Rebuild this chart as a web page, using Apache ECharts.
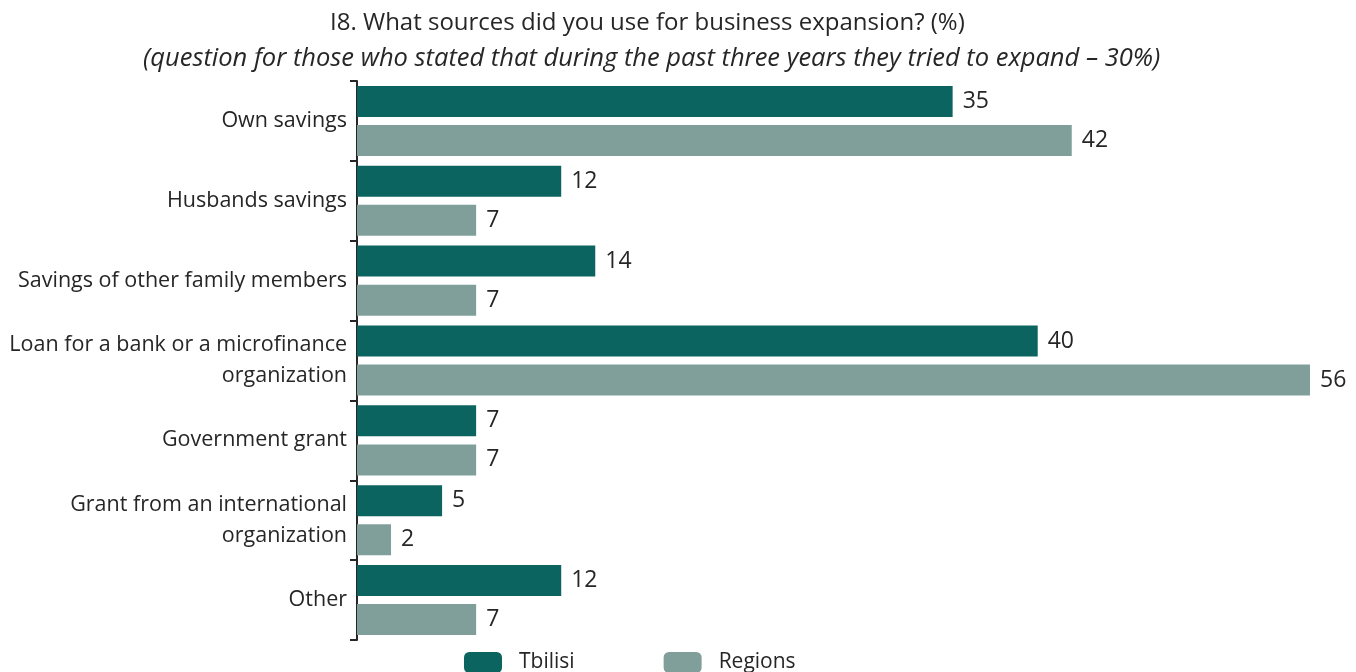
<!DOCTYPE html>
<html>
<head>
<meta charset="utf-8">
<script src="https://cdn.jsdelivr.net/npm/echarts@6/dist/echarts.min.js"></script>
<style>
  html, body { margin: 0; padding: 0; background: #fff; }
  #chart { width: 1356px; height: 672px; }
</style>
</head>
<body>
<div id="chart"></div>
<script>
// Survey answers: sources used for business expansion (%)
const categories = [
  'Own savings',
  'Husbands savings',
  'Savings of other family members',
  'Loan for a bank or a microfinance\norganization',
  'Government grant',
  'Grant from an international\norganization',
  'Other'
];
const tbilisi = [35, 12, 14, 40, 7, 5, 12];
const regions = [42, 7, 7, 56, 7, 2, 7];
const seriesNames = ['Tbilisi', 'Regions'];

const titleText = 'I8. What sources did you use for business expansion? (%)';
const subtitleText = '(question for those who stated that during the past three years they tried to expand \u2013 30%)';

const FONT = '"Open Sans", "Noto Sans", sans-serif';
const TEXT = '#262626';
const DARK = '#0C6460';
const LIGHT = '#809F9B';

const chart = echarts.init(document.getElementById('chart'));

const labelStyle = {
  show: true,
  position: 'right',
  distance: 10,
  color: TEXT,
  fontSize: 23,
  fontFamily: FONT
};

chart.setOption({
  animation: false,
  title: [
    {
      text: titleText,
      left: 325,
      top: 6,
      textStyle: { fontFamily: FONT, fontSize: 24, fontWeight: 'normal', color: TEXT }
    },
    {
      text: subtitleText,
      left: 138,
      top: 41,
      textStyle: { fontFamily: FONT, fontSize: 25.5, fontStyle: 'italic', fontWeight: 'normal', color: TEXT }
    }
  ],
  legend: {
    top: 647,
    left: 459,
    itemWidth: 38,
    itemHeight: 21,
    itemGap: 89,
    textStyle: { fontFamily: FONT, fontSize: 21, color: TEXT, padding: [0, 0, 0, 12] },
    data: seriesNames.map((n) => ({ name: n, icon: 'roundRect' }))
  },
  grid: { left: 357, right: 46, top: 81, bottom: 32 },
  xAxis: {
    type: 'value',
    min: 0,
    max: 56,
    show: false
  },
  yAxis: {
    type: 'category',
    inverse: true,
    data: categories,
    axisLine: { show: true, lineStyle: { color: TEXT, width: 2 } },
    axisTick: { show: true, length: 7, lineStyle: { color: TEXT, width: 2 } },
    axisLabel: {
      color: TEXT,
      fontSize: 21.5,
      fontFamily: FONT,
      margin: 10,
      lineHeight: 31,
      align: 'right'
    }
  },
  series: [
    {
      name: seriesNames[0],
      type: 'bar',
      data: tbilisi,
      barWidth: 31,
      barGap: '26%',
      itemStyle: { color: DARK },
      label: labelStyle
    },
    {
      name: seriesNames[1],
      type: 'bar',
      data: regions,
      barWidth: 31,
      itemStyle: { color: LIGHT },
      label: labelStyle
    }
  ]
});
</script>
</body>
</html>
